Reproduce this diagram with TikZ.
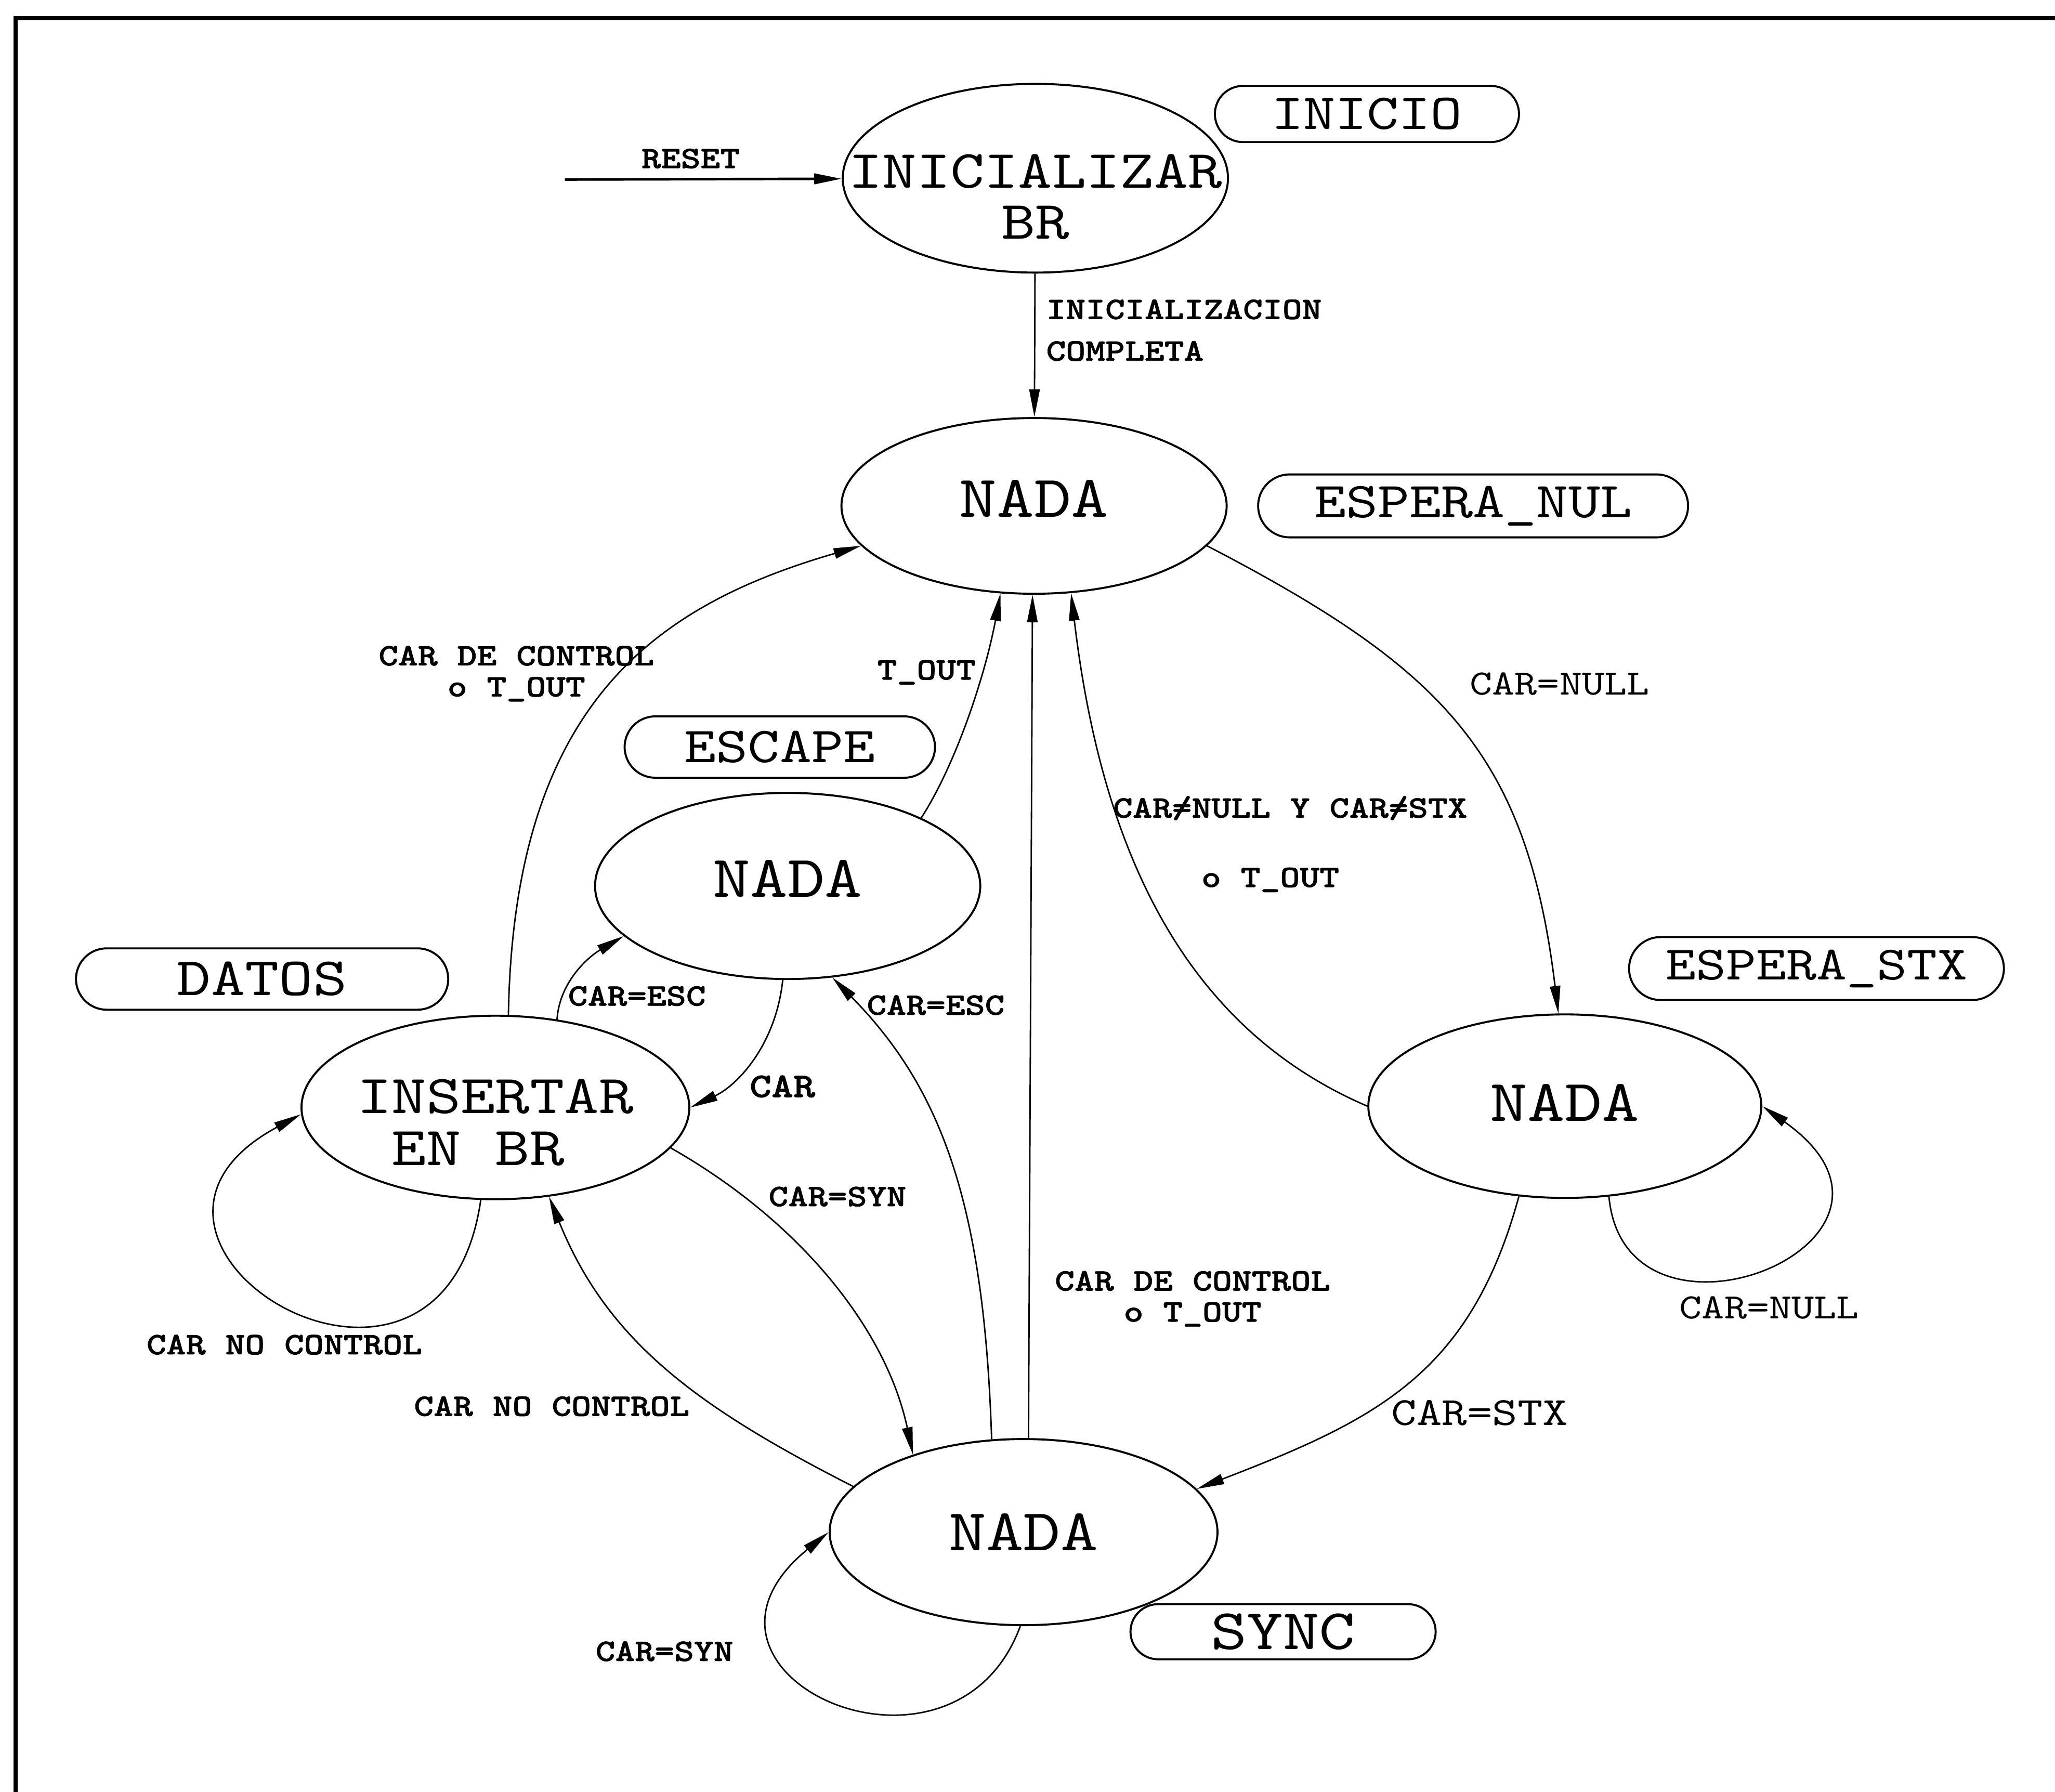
\documentclass[tikz,border=0pt]{standalone}
\usepackage{fontspec}
\newfontfamily\maquina[FakeStretch=1.2]{lmmono10-regular.otf}
\newfontfamily\maquinanegra[FakeStretch=1.2, FakeBold=1.2]{lmmonolt10-bold.otf}
\usetikzlibrary{arrows.meta, shapes.geometric, shapes.misc}

\tikzset{
  estado/.style={draw, ellipse, line width=1.1pt, inner sep=0pt},
  estadotxt/.style={font=\maquina\fontsize{32.4}{30}\selectfont, align=center, inner sep=0pt},
  marca/.style={draw, rounded rectangle, line width=1.1pt, inner sep=0pt,
                font=\maquina\fontsize{27.6}{27.6}\selectfont},
  etiq/.style={font=\maquinanegra\fontsize{17.1}{#1}\selectfont, align=center, inner sep=0pt},
  etiq/.default=22,
  etiqfina/.style={font=\maquina\fontsize{#1}{#1}\selectfont, inner sep=0pt},
  trans/.style={-{Triangle[length=5.3mm, width=2mm]}, line width=0.8pt},
}

% estado: [opciones del texto]{nombre}{x}{y}{ancho}{alto}{texto}
\newcommand{\estado}[7][]{%
  \node[estado, minimum width=#5, minimum height=#6,
        label={[estadotxt,#1]center:{#7}}] (#2) at (#3,#4) {};}
\newcommand{\distinto}{\rlap{/}=}

\begin{document}
\begin{tikzpicture}[x=0.2521mm, y=0.2521mm]
  \useasboundingbox (0,0) rectangle (1568,1367);
  \draw[line width=2.3pt] (12,-10) -- (12,1353) -- (1580,1353);

  % estados
  \estado[yshift=-3.6mm, font=\maquina\fontsize{29.5}{27.9}\selectfont]{ini}{790}{1231}{74.1mm}{36.3mm}{INICIALIZAR\\BR}
  \estado[yshift=1.4mm]{n1}{789}{981}{74.1mm}{33.8mm}{NADA}
  \estado[yshift=1.4mm]{nesc}{601}{691}{74.1mm}{35.8mm}{NADA}
  \estado[yshift=-2.9mm, font=\maquina\fontsize{30}{28.5}\selectfont]{ins}{378}{522}{74.6mm}{35.3mm}{INSERTAR\\EN BR\hphantom{I}}
  \estado[yshift=0.7mm]{nstx}{1194}{523}{75.6mm}{35.3mm}{NADA}
  \estado{nsyn}{781}{198}{74.6mm}{35.8mm}{NADA}

  % nombres de los estados
  \node[marca, minimum width=58.5mm, minimum height=10.8mm] (tini) at (1043,1280) {INICIO};
  \node[marca, minimum width=82.7mm, minimum height=12.1mm] (tnul) at (1124,981) {ESPERA\_NUL};
  \node[marca, minimum width=59.7mm, minimum height=11.8mm] (tesc) at (595,797) {ESCAPE};
  \node[marca, minimum width=71.6mm, minimum height=11.8mm,
        font=\maquina\fontsize{29.5}{29.5}\selectfont] (tdat) at (200,620) {DATOS};
  \node[marca, minimum width=72.1mm, minimum height=12.1mm,
        font=\maquina\fontsize{26.2}{26.2}\selectfont] (tstx) at (1386,628) {ESPERA\_STX};
  \node[marca, minimum width=58.7mm, minimum height=10.6mm,
        font=\maquina\fontsize{31.4}{31.4}\selectfont] (tsyn) at (979,122) {SYNC};

  % transiciones
  \coordinate (reset) at (431,1230);
  \draw[trans, line width=1.4pt] (reset) -- (ini);
  \node[etiq] (l-reset) at (527,1246) {RESET};

  \draw[trans] (ini) -- (n1);
  \node[etiq=22.8, align=left, anchor=west] (l-ini) at (798,1115) {INICIALIZACION\\COMPLETA};

  \draw[trans] (n1.-13) .. controls (1101,857) and (1165,792) .. (nstx.94);
  \node[etiqfina=19.5] (l-null1) at (1190,845) {CAR=NULL};

  \draw[trans] (nstx.west) .. controls (906,582) and (841,714) .. (n1.-67);
  \node[etiq=38, align=left, anchor=west] (l-distinto) at (849,723)
    {CAR\distinto NULL Y CAR\distinto STX\\\hspace*{17mm}o T\_OUT};

  \draw[trans] (nstx.-117) .. controls (1122,319) and (1051,284) .. (nsyn.14);
  \node[etiqfina=21.9] (l-stx) at (1129,289) {CAR=STX};

  \draw[trans] (nstx.-64) .. controls (1240,320) and (1490,420) .. (nstx.east);
  \node[etiqfina=19.5] (l-null2) at (1350,369) {CAR=NULL};

  \draw[trans] (nsyn.87) -- (n1.-91);
  \node[etiq=17] (l-ctl2) at (910,376) {CAR DE CONTROL\\o T\_OUT};

  \draw[trans] (nsyn.109) .. controls (751,447) and (719,536) .. (nesc.-64);
  \node[etiq] (l-esc2) at (714,600) {CAR=ESC};

  \draw[trans] (nesc.27) .. controls (730,785) and (752,853) .. (n1.-111);
  \node[etiq] (l-tout) at (707,854) {T\_OUT};

  \draw[trans] (ins.82) .. controls (392,830) and (500,905) .. (n1.193);
  \node[etiq=17] (l-ctl1) at (394,853) {CAR DE CONTROL\\o T\_OUT};

  \draw[trans] (ins.55) .. controls (427,618) and (449,637) .. (nesc.197);
  \node[etiq] (l-esc1) at (486,607) {CAR=ESC};

  \draw[trans] (nesc.-93) .. controls (592,570) and (563,539) .. (ins.east);
  \node[etiq, font=\maquinanegra\fontsize{19}{19}\selectfont] (l-car) at (597,538) {CAR};

  \draw[trans] (ins.-99) .. controls (337,244) and (50,420) .. (ins.182);
  \node[etiq] (l-noctl1) at (217,341) {CAR NO CONTROL};

  \draw[trans] (ins.-13) .. controls (609,436) and (676,354) .. (nsyn.145);
  \node[etiq] (l-syn1) at (639,454) {CAR=SYN};

  \draw[trans] (nsyn.165) .. controls (535,292) and (464,342) .. (ins.-59);
  \node[etiq] (l-noctl2) at (421,294) {CAR NO CONTROL};

  \draw[trans] (nsyn.-92) .. controls (727,-13) and (500,90) .. (nsyn.west);
  \node[etiq] (l-syn2) at (507,107) {CAR=SYN};
\end{tikzpicture}
\end{document}
